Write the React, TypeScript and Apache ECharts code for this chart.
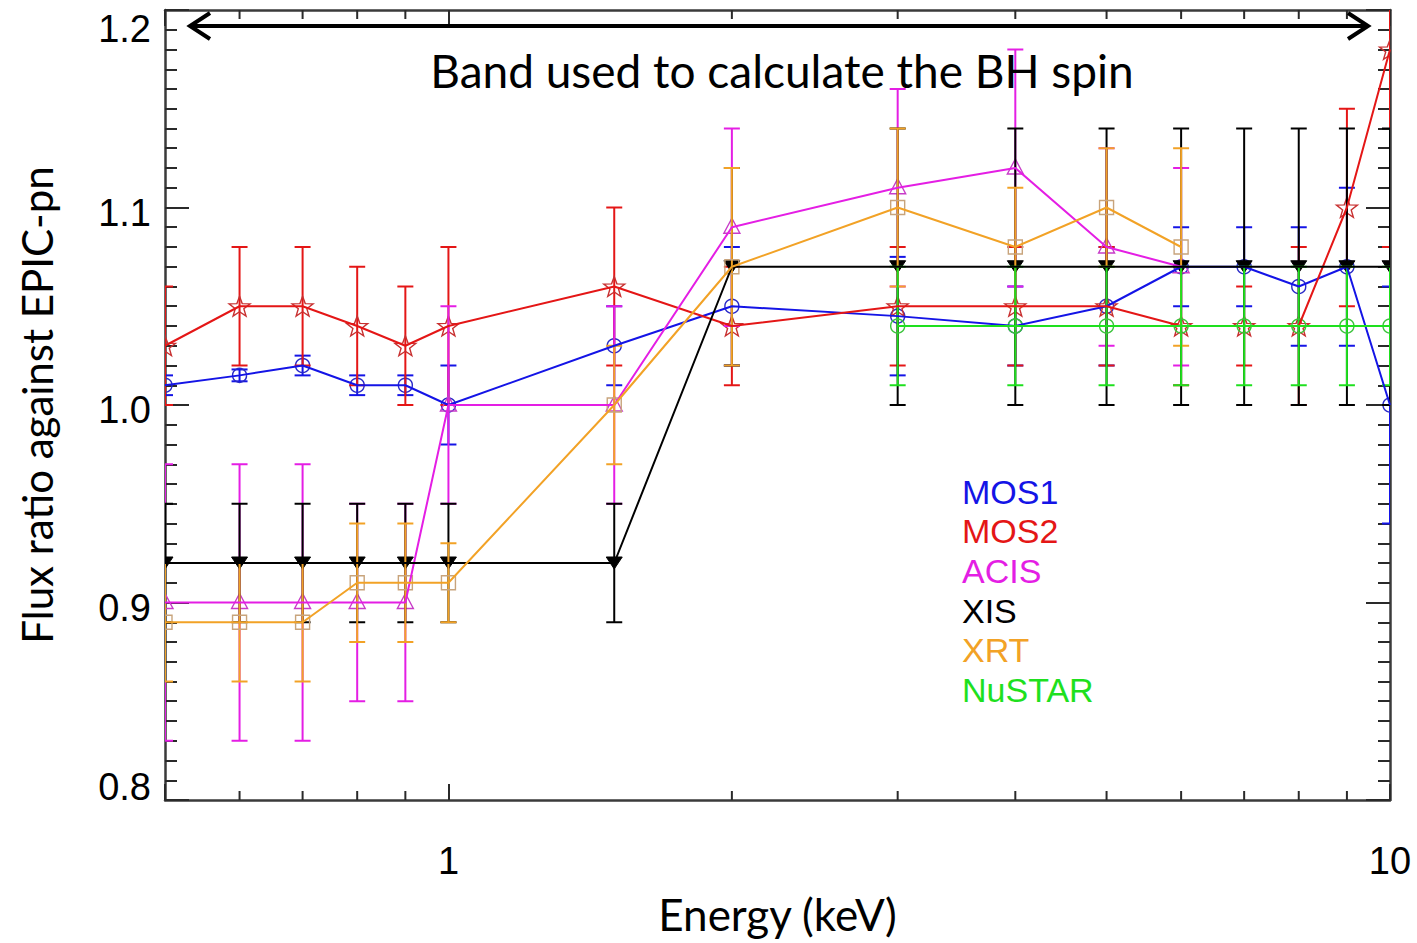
import React, { useEffect, useRef } from 'react';
import * as echarts from 'echarts';

// ---------------- data ----------------
const energies = [0.5, 0.6, 0.7, 0.8, 0.9, 1.0, 1.5, 2, 3, 4, 5, 6, 7, 8, 9, 10];
const lowEnergies = [0.5, 0.6, 0.7, 0.8, 0.9, 1.0, 1.5, 2, 3, 4, 5, 6];
const nustarEnergies = [3, 4, 5, 6, 7, 8, 9, 10];

const mos1 = [1.01, 1.015, 1.02, 1.01, 1.01, 1.0, 1.03, 1.05, 1.045, 1.04, 1.05, 1.07, 1.07, 1.06, 1.07, 1.0];
const mos1Lo = [1.005, 1.012, 1.015, 1.005, 1.005, 0.98, 1.01, 1.02, 1.015, 1.02, 1.02, 1.05, 1.05, 1.03, 1.03, 0.94];
const mos1Hi = [1.015, 1.018, 1.025, 1.015, 1.015, 1.02, 1.05, 1.08, 1.075, 1.06, 1.08, 1.09, 1.09, 1.09, 1.11, 1.06];

const mos2 = [1.03, 1.05, 1.05, 1.04, 1.03, 1.04, 1.06, 1.04, 1.05, 1.05, 1.05, 1.04, 1.04, 1.04, 1.10, 1.18];
const mos2Lo = [1.0, 1.02, 1.02, 1.01, 1.0, 1.0, 1.02, 1.01, 1.02, 1.02, 1.02, 1.01, 1.02, 1.0, 1.05, 1.08];
const mos2Hi = [1.06, 1.08, 1.08, 1.07, 1.06, 1.08, 1.10, 1.07, 1.08, 1.08, 1.08, 1.07, 1.06, 1.08, 1.15, 1.28];

const acis = [0.90, 0.90, 0.90, 0.90, 0.90, 1.0, 1.0, 1.09, 1.11, 1.12, 1.08, 1.07];
const acisLo = [0.83, 0.83, 0.83, 0.85, 0.85, 0.95, 0.95, 1.04, 1.06, 1.06, 1.03, 1.02];
const acisHi = [0.97, 0.97, 0.97, 0.95, 0.95, 1.05, 1.05, 1.14, 1.16, 1.18, 1.13, 1.12];

const xis = [0.92, 0.92, 0.92, 0.92, 0.92, 0.92, 0.92, 1.07, 1.07, 1.07, 1.07, 1.07, 1.07, 1.07, 1.07, 1.07];
const xisLo = [0.89, 0.89, 0.89, 0.89, 0.89, 0.89, 0.89, 1.02, 1.0, 1.0, 1.0, 1.0, 1.0, 1.0, 1.0, 1.0];
const xisHi = [0.95, 0.95, 0.95, 0.95, 0.95, 0.95, 0.95, 1.12, 1.14, 1.14, 1.14, 1.14, 1.14, 1.14, 1.14, 1.14];

const xrt = [0.89, 0.89, 0.89, 0.91, 0.91, 0.91, 1.0, 1.07, 1.10, 1.08, 1.10, 1.08];
const xrtLo = [0.86, 0.86, 0.86, 0.88, 0.88, 0.89, 0.97, 1.02, 1.06, 1.05, 1.07, 1.03];
const xrtHi = [0.92, 0.92, 0.92, 0.94, 0.94, 0.93, 1.03, 1.12, 1.14, 1.11, 1.13, 1.13];

const nustar = [1.04, 1.04, 1.04, 1.04, 1.04, 1.04, 1.04, 1.04];
const nustarLo = [1.01, 1.01, 1.01, 1.01, 1.01, 1.01, 1.01, 1.01];
const nustarHi = [1.07, 1.07, 1.07, 1.07, 1.07, 1.07, 1.07, 1.07];

const legendNames = ['MOS1', 'MOS2', 'ACIS', 'XIS', 'XRT', 'NuSTAR'];
const xMajorLabels = [1, 10];
const xMinorTicks = [0.6, 0.7, 0.8, 0.9, 2, 3, 4, 5, 6, 7, 8, 9];
const yMin = 0.8;
const yMax = 1.2;
const yStep = 0.1;

const titleText = 'Band used to calculate the BH spin';
const xName = 'Energy (keV)';
const yName = 'Flux ratio against EPIC-pn';

// ---------------- styling ----------------
type Kind = 'circle' | 'star' | 'tri' | 'dtri' | 'square';

const instruments: {
  name: string; x: number[]; y: number[]; lo: number[]; hi: number[];
  color: string; marker: string; kind: Kind;
}[] = [
  { name: 'MOS1', x: energies, y: mos1, lo: mos1Lo, hi: mos1Hi, color: '#1414e6', marker: '#2a2ac8', kind: 'circle' },
  { name: 'MOS2', x: energies, y: mos2, lo: mos2Lo, hi: mos2Hi, color: '#e41616', marker: '#c83030', kind: 'star' },
  { name: 'ACIS', x: lowEnergies, y: acis, lo: acisLo, hi: acisHi, color: '#e41ee4', marker: '#c83cc8', kind: 'tri' },
  { name: 'XIS', x: energies, y: xis, lo: xisLo, hi: xisHi, color: '#000000', marker: '#000000', kind: 'dtri' },
  { name: 'XRT', x: lowEnergies, y: xrt, lo: xrtLo, hi: xrtHi, color: '#f2a226', marker: '#c8a47c', kind: 'square' },
  { name: 'NuSTAR', x: nustarEnergies, y: nustar, lo: nustarLo, hi: nustarHi, color: '#1ee01e', marker: '#3cc43c', kind: 'circle' },
];

function markerShape(kind: Kind, cx: number, cy: number, color: string): any {
  const stroke = { stroke: color, fill: 'none', lineWidth: 1.4 };
  if (kind === 'circle') return { type: 'circle', shape: { cx, cy, r: 7 }, style: stroke };
  if (kind === 'square') return { type: 'rect', shape: { x: cx - 7, y: cy - 7, width: 14, height: 14 }, style: stroke };
  if (kind === 'tri') return { type: 'polygon', shape: { points: [[cx, cy - 9], [cx - 8, cy + 6], [cx + 8, cy + 6]] }, style: stroke };
  if (kind === 'dtri') return { type: 'polygon', shape: { points: [[cx - 8, cy - 6], [cx + 8, cy - 6], [cx, cy + 6]] }, style: { fill: color, stroke: color, lineWidth: 1 } };
  const pts: number[][] = [];
  for (let i = 0; i < 10; i++) {
    const r = i % 2 === 0 ? 11 : 4.5;
    const a = -Math.PI / 2 + (i * Math.PI) / 5;
    pts.push([cx + r * Math.cos(a), cy + 1 + r * Math.sin(a)]);
  }
  return { type: 'polygon', shape: { points: pts }, style: stroke };
}

const tickColor = '#2a2a2a';
const labelFont = '"Liberation Sans", Arial, sans-serif';
const humanFont = 'Lato, "Open Sans", sans-serif';

export default function App() {
  const ref = useRef<HTMLDivElement>(null);
  useEffect(() => {
    if (!ref.current) return;
    const chart = echarts.init(ref.current, undefined, { renderer: 'svg' });

    const series: any[] = [];
    instruments.forEach((ins) => {
      series.push({
        name: ins.name,
        type: 'line',
        data: ins.x.map((e, i) => [e, ins.y[i]]),
        showSymbol: false,
        symbol: 'none',
        clip: true,
        lineStyle: { color: ins.color, width: 2 },
        itemStyle: { color: ins.color },
        z: 3,
      });
      series.push({
        name: ins.name,
        type: 'custom',
        clip: true,
        z: 3,
        encode: { x: 0, y: 1 },
        data: ins.x.map((e, i) => [e, ins.y[i], ins.lo[i], ins.hi[i]]),
        renderItem: (params: any, api: any) => {
          const cs = params.coordSys;
          const x = api.value(0);
          const p = api.coord([x, api.value(1)]);
          const pl = api.coord([x, api.value(2)]);
          const ph = api.coord([x, api.value(3)]);
          const st = { stroke: ins.color, lineWidth: 2 };
          return {
            type: 'group',
            clipPath: { type: 'rect', shape: { x: cs.x, y: cs.y, width: cs.width, height: cs.height } },
            children: [
              { type: 'line', shape: { x1: p[0], y1: pl[1], x2: p[0], y2: ph[1] }, style: st },
              { type: 'line', shape: { x1: p[0] - 8, y1: pl[1], x2: p[0] + 8, y2: pl[1] }, style: st },
              { type: 'line', shape: { x1: p[0] - 8, y1: ph[1], x2: p[0] + 8, y2: ph[1] }, style: st },
              markerShape(ins.kind, p[0], p[1], ins.marker),
            ],
          };
        },
      });
    });

    // log-axis minor ticks (bottom & top)
    series.push({
      name: 'minorTicks',
      type: 'custom',
      silent: true,
      z: 5,
      encode: { x: 0, y: 1 },
      data: xMinorTicks.map((v) => [v, yMin]),
      renderItem: (params: any, api: any) => {
        const x = api.value(0);
        const b = api.coord([x, yMin]);
        const t = api.coord([x, yMax]);
        const st = { stroke: tickColor, lineWidth: 2 };
        return {
          type: 'group',
          children: [
            { type: 'line', shape: { x1: b[0], y1: b[1], x2: b[0], y2: b[1] - 9 }, style: st },
            { type: 'line', shape: { x1: t[0], y1: t[1], x2: t[0], y2: t[1] + 9 }, style: st },
          ],
        };
      },
    });

    const yRich = {
      top: { fontSize: 38, fontFamily: labelFont, color: '#000', padding: [38, 0, 0, 0] },
      mid: { fontSize: 38, fontFamily: labelFont, color: '#000', padding: [10, 0, 0, 0] },
      bot: { fontSize: 38, fontFamily: labelFont, color: '#000', padding: [0, 0, 26, 0] },
    };

    const axisLine = { show: true, onZero: false, lineStyle: { color: '#3a3a3a', width: 2.5 } };

    const option: any = {
      animation: false,
      backgroundColor: '#ffffff',
      title: {
        text: titleText,
        left: 777,
        top: 42,
        textAlign: 'center',
        textStyle: { fontFamily: humanFont, fontSize: 46, fontWeight: 'normal', color: '#000' },
      },
      legend: {
        data: legendNames.map((n) => ({
          name: n,
          textStyle: { color: instruments.find((i) => i.name === n)!.color },
        })),
        orient: 'vertical',
        left: 957,
        top: 472,
        padding: 0,
        itemGap: 0,
        itemWidth: 0,
        itemHeight: 0,
        icon: 'none',
        selectedMode: false,
        textStyle: { fontFamily: labelFont, fontSize: 34, lineHeight: 39.6 },
      },
      grid: { left: 165, right: 27, top: 10, bottom: 143, containLabel: false },
      xAxis: [
        {
          type: 'log',
          logBase: 10,
          min: 0.5,
          max: 10,
          position: 'bottom',
          name: xName,
          nameLocation: 'middle',
          nameGap: 92,
          nameTextStyle: { fontFamily: humanFont, fontSize: 44, color: '#000' },
          axisLine,
          axisTick: { show: true, inside: true, length: 16, lineStyle: { color: tickColor, width: 2 } },
          minorTick: { show: false },
          splitLine: { show: false },
          axisLabel: {
            margin: 42,
            fontSize: 38,
            fontFamily: labelFont,
            color: '#000',
            formatter: (v: number) => {
              const r = Math.round(v * 1000) / 1000;
              return xMajorLabels.indexOf(r) >= 0 ? String(r) : '';
            },
          },
        },
        {
          type: 'log',
          logBase: 10,
          min: 0.5,
          max: 10,
          position: 'top',
          axisLine,
          axisTick: { show: true, inside: true, length: 16, lineStyle: { color: tickColor, width: 2 } },
          axisLabel: { show: false },
          splitLine: { show: false },
        },
      ],
      yAxis: [
        {
          type: 'value',
          min: yMin,
          max: yMax,
          interval: yStep,
          position: 'left',
          name: yName,
          nameLocation: 'middle',
          nameGap: 107,
          nameTextStyle: { fontFamily: humanFont, fontSize: 42, color: '#000' },
          axisLine,
          axisTick: { show: true, inside: true, length: 24, lineStyle: { color: tickColor, width: 2 } },
          minorTick: { show: true, splitNumber: 10, length: 12, lineStyle: { color: tickColor, width: 2 } },
          splitLine: { show: false },
          axisLabel: {
            margin: 14,
            formatter: (v: number) => {
              const s = v.toFixed(1);
              if (Math.abs(v - yMax) < 1e-6) return `{top|${s}}`;
              if (Math.abs(v - yMin) < 1e-6) return `{bot|${s}}`;
              return `{mid|${s}}`;
            },
            rich: yRich,
          },
        },
        {
          type: 'value',
          min: yMin,
          max: yMax,
          interval: yStep,
          position: 'right',
          axisLine,
          axisTick: { show: true, inside: true, length: 24, lineStyle: { color: tickColor, width: 2 } },
          minorTick: { show: true, splitNumber: 10, length: 12, lineStyle: { color: tickColor, width: 2 } },
          splitLine: { show: false },
          axisLabel: { show: false },
        },
      ],
      graphic: [
        {
          type: 'line',
          shape: { x1: 190, y1: 26, x2: 1368, y2: 26 },
          style: { stroke: '#000', lineWidth: 4 },
          z: 10,
        },
        {
          type: 'polyline',
          shape: { points: [[210, 13], [190, 26], [210, 39]] },
          style: { stroke: '#000', lineWidth: 4, fill: 'none', lineJoin: 'miter' },
          z: 10,
        },
        {
          type: 'polyline',
          shape: { points: [[1348, 13], [1368, 26], [1348, 39]] },
          style: { stroke: '#000', lineWidth: 4, fill: 'none', lineJoin: 'miter' },
          z: 10,
        },
      ],
      series,
    };

    chart.setOption(option);
    return () => chart.dispose();
  }, []);

  return <div ref={ref} style={{ position: 'absolute', left: 0, top: 0, width: 1417, height: 943 }} />;
}
